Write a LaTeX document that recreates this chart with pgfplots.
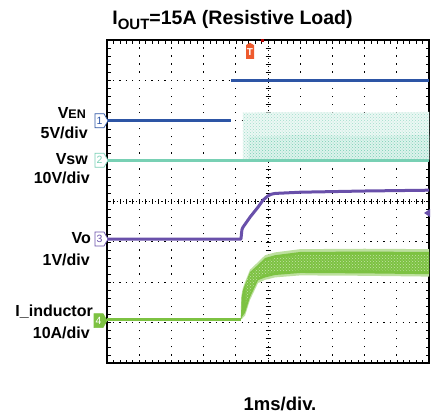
\documentclass[border=0pt]{standalone}
\usepackage{fontspec}
\setmainfont{Liberation Sans}
\usepackage{pgfplots}
\pgfplotsset{compat=1.18}
\usetikzlibrary{shapes.symbols,patterns}
\definecolor{cblue}{RGB}{45,85,165}
\definecolor{cteal}{RGB}{120,208,180}
\definecolor{cpurple}{RGB}{105,80,170}
\definecolor{cgreen}{RGB}{125,194,66}
\definecolor{corange}{RGB}{238,90,45}
\begin{document}
\begin{tikzpicture}
\useasboundingbox (-107pt,-50pt) rectangle (326pt,363pt);
% centre cross (graticule)
\draw[black, line width=0.7pt, dash pattern=on 1.2pt off 2.8pt] (161pt,0pt) -- (161pt,323pt);
\draw[black, line width=0.7pt, dash pattern=on 1.2pt off 2pt] (0pt,161.5pt) -- (322pt,161.5pt);
\foreach \j in {1,...,39} \draw[black, line width=0.6pt] (158.5pt,\j*8.075pt) -- (163.5pt,\j*8.075pt);
\foreach \i in {1,...,49} \draw[black, line width=0.6pt] (\i*6.44pt,159pt) -- (\i*6.44pt,164pt);
\begin{axis}[
  at={(0pt,0pt)}, anchor=south west,
  scale only axis, width=322pt, height=323pt,
  xmin=0, xmax=10, ymin=0, ymax=8,
  axis line style={line width=2.8pt, black},
  xtick={1,2,3,4,6,7,8,9}, ytick={1,2,3,5,6,7},
  xticklabels={}, yticklabels={},
  major tick length=0pt,
  minor xtick={0.2,0.4,...,9.8}, minor ytick={0.2,0.4,...,7.8},
  minor tick length=3.5pt, tick align=inside,
  minor tick style={line width=0.6pt, black},
  grid=major,
  major x grid style={black, line width=0.9pt, dash pattern=on 1.3pt off 6.78pt, dash phase=0.65pt},
  major y grid style={black, line width=0.9pt, dash pattern=on 1.3pt off 5.14pt, dash phase=0.65pt},
]
% Vsw switching noise
\addplot[draw=none, fill=cteal!14] coordinates {(4.22,5.02) (4.22,6.2) (6,6.22) (8,6.2) (10,6.22) (10,5.02)} -- cycle;
\addplot[draw=none, pattern=crosshatch dots, pattern color=cteal!70] coordinates {(4.22,5.02) (4.22,6.2) (6,6.22) (8,6.2) (10,6.22) (10,5.02)} -- cycle;
\addplot[draw=none, fill=cteal!25] coordinates {(4.4,5.02) (4.4,5.6) (6,5.65) (8,5.62) (10,5.65) (10,5.02)} -- cycle;
\addplot[draw=none, pattern=crosshatch dots, pattern color=cteal] coordinates {(4.4,5.02) (4.4,5.6) (6,5.65) (8,5.62) (10,5.65) (10,5.02)} -- cycle;
% Vsw baseline
\addplot[cteal, line width=2.4pt] coordinates {(0,5.02) (10,5.02)};
% VEN
\addplot[cblue, line width=3pt] coordinates {(0,6.0) (3.85,6.0)};
\addplot[cblue, line width=3pt] coordinates {(3.85,7.0) (10,7.0)};
% Vo
\addplot[cpurple, line width=3pt, line join=round] coordinates {(0,3.07) (4.16,3.07) (4.19,3.3) (4.22,3.36) (4.44,3.61) (4.69,3.86) (4.84,4.03) (5.0,4.14) (5.1,4.18) (5.22,4.2) (6.0,4.23) (8,4.26) (10,4.28)};
% I_inductor ripple band
\addplot[draw=none, fill=cgreen!50] coordinates {(4.15,1.08) (4.17,1.66) (4.22,1.86) (4.29,2.01) (4.44,2.31) (4.69,2.5) (4.91,2.67) (5.22,2.74) (6.0,2.82) (8,2.83) (10,2.82) (10,2.14) (8,2.16) (6,2.17) (5.22,2.12) (4.91,2.06) (4.69,1.98) (4.44,1.56) (4.29,1.18) (4.2,1.1)} -- cycle;
\addplot[draw=none, fill=cgreen] coordinates {(4.16,1.08) (4.18,1.6) (4.22,1.8) (4.29,1.95) (4.44,2.25) (4.69,2.43) (4.91,2.6) (5.22,2.67) (6.0,2.75) (8,2.76) (10,2.75) (10,2.2) (8,2.22) (6,2.23) (5.22,2.18) (4.91,2.12) (4.69,2.05) (4.44,1.63) (4.29,1.25) (4.2,1.15)} -- cycle;
\addplot[draw=none, pattern=crosshatch dots, pattern color=cgreen!45] coordinates {(4.3,2.0) (4.44,2.2) (4.69,2.38) (4.91,2.52) (5.22,2.6) (6.0,2.68) (8,2.69) (10,2.68) (10,2.28) (8,2.3) (6,2.3) (5.22,2.26) (4.91,2.2) (4.69,2.12) (4.44,1.75) (4.3,1.45)} -- cycle;
\addplot[cgreen, line width=3pt] coordinates {(0,1.08) (4.17,1.08)};
\end{axis}
% markers
\fill[red!70!black] (154pt,321pt) rectangle (157pt,324pt);
\node[signal, signal to=north, signal pointer angle=120, fill=corange, text=white, inner sep=0.8pt, minimum width=8pt, minimum height=16pt, font=\bfseries\fontsize{10}{10}\selectfont] at (143pt,311pt) {T};
\fill[cpurple] (323pt,146pt) -- (317pt,150pt) -- (323pt,154pt) -- cycle;
\tikzset{chan/.style={signal, signal to=east, signal pointer angle=120, line width=0.7pt, inner xsep=1.5pt, inner ysep=2pt, minimum height=14pt, minimum width=13pt, font=\fontsize{10.5}{10.5}\selectfont}}
\node[chan, draw=cblue, fill=white, text=cblue] at (-7.5pt,242.3pt) {1};
\node[chan, draw=cteal, fill=white, text=cteal] at (-7.5pt,202.7pt) {2};
\node[chan, draw=cpurple, fill=white, text=cpurple] at (-7.5pt,124pt) {3};
\node[chan, draw=cgreen, fill=cgreen, text=white] at (-8.5pt,42.4pt) {4};
% labels
\tikzset{lab/.style={anchor=base east, inner sep=0pt, font=\bfseries\fontsize{16}{16}\selectfont}}
\node[lab] at (-21pt,244.2pt) {V{\fontsize{12.5}{12}\selectfont EN}};
\node[lab] at (-19pt,224.2pt) {5V/div};
\node[lab] at (-19pt,198.2pt) {Vsw};
\node[lab] at (-17pt,179.2pt) {10V/div};
\node[lab] at (-16pt,119.2pt) {Vo};
\node[lab] at (-17pt,97.2pt) {1V/div};
\node[lab] at (-14pt,46.2pt) {I\_inductor};
\node[lab] at (-17pt,24.2pt) {10A/div};
\node[anchor=base, inner sep=0pt, font=\bfseries\fontsize{19.5}{20}\selectfont] at (125.5pt,338pt) {I\raisebox{-5pt}{\fontsize{15}{15}\selectfont OUT}=15A (Resistive Load)};
\node[anchor=base, inner sep=0pt, font=\bfseries\fontsize{18.5}{19}\selectfont] at (173pt,-47pt) {1ms/div.};
\end{tikzpicture}
\end{document}
